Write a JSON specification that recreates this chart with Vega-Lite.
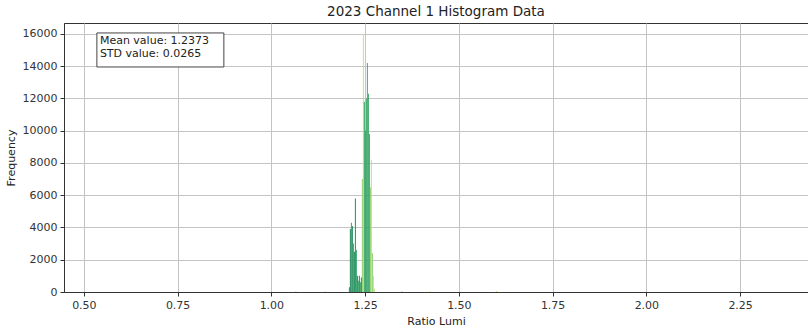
{
  "$schema": "https://vega.github.io/schema/vega-lite/v6.json",
  "autosize": {"type": "none"},
  "width": 744,
  "height": 269,
  "padding": {"left": 64, "top": 23, "right": 0, "bottom": 38},
  "background": "white",
  "title": {
    "text": "2023 Channel 1 Histogram Data",
    "font": "DejaVu Sans",
    "fontSize": 13.5,
    "fontWeight": "normal",
    "color": "#222",
    "anchor": "middle",
    "offset": 5
  },
  "config": {
    "view": {"stroke": "#333", "strokeWidth": 1},
    "axis": {
      "labelFont": "DejaVu Sans",
      "labelFontSize": 11,
      "labelColor": "#333",
      "labelFlush": false,
      "labelOverlap": false,
      "titleFont": "DejaVu Sans",
      "titleFontSize": 11,
      "titleFontWeight": "normal",
      "titleColor": "#222",
      "gridColor": "#c4c4c4",
      "gridWidth": 1,
      "domainColor": "#333",
      "tickColor": "#333",
      "tickSize": 4
    },
    "axisX": {"labelPadding": 3, "titlePadding": 5},
    "axisY": {"format": "d", "labelPadding": 3, "titlePadding": 6}
  },
  "datasets": {
    "hist": [
      {"lo": 1.0640, "hi": 1.0667, "count": 60, "series": "S5"},
      {"lo": 1.1413, "hi": 1.1440, "count": 50, "series": "S5"},
      {"lo": 1.3467, "hi": 1.3493, "count": 60, "series": "S5"},
      {"lo": 1.4227, "hi": 1.4253, "count": 50, "series": "S5"},
      {"lo": 1.5987, "hi": 1.6013, "count": 60, "series": "S5"},

      {"lo": 1.2067, "hi": 1.2093, "count": 300, "series": "S1"},
      {"lo": 1.2093, "hi": 1.2120, "count": 3900, "series": "S1"},
      {"lo": 1.2120, "hi": 1.2147, "count": 4300, "series": "S2"},
      {"lo": 1.2147, "hi": 1.2173, "count": 4100, "series": "S1"},
      {"lo": 1.2173, "hi": 1.2200, "count": 3000, "series": "S2"},
      {"lo": 1.2200, "hi": 1.2227, "count": 2500, "series": "S1"},
      {"lo": 1.2227, "hi": 1.2253, "count": 5800, "series": "S1"},
      {"lo": 1.2253, "hi": 1.2280, "count": 2600, "series": "S2"},
      {"lo": 1.2280, "hi": 1.2307, "count": 1000, "series": "S1"},
      {"lo": 1.2307, "hi": 1.2333, "count": 700, "series": "S2"},
      {"lo": 1.2333, "hi": 1.2360, "count": 1000, "series": "S1"},
      {"lo": 1.2360, "hi": 1.2387, "count": 600, "series": "S2"},
      {"lo": 1.2387, "hi": 1.2413, "count": 900, "series": "S1"},
      {"lo": 1.2413, "hi": 1.2440, "count": 7000, "series": "S4"},
      {"lo": 1.2440, "hi": 1.2467, "count": 16000, "series": "S5"},
      {"lo": 1.2467, "hi": 1.2493, "count": 11800, "series": "S2"},
      {"lo": 1.2493, "hi": 1.2520, "count": 10000, "series": "S2"},
      {"lo": 1.2520, "hi": 1.2547, "count": 12000, "series": "S2"},
      {"lo": 1.2547, "hi": 1.2573, "count": 14200, "series": "S3"},
      {"lo": 1.2573, "hi": 1.2600, "count": 12300, "series": "S2"},
      {"lo": 1.2600, "hi": 1.2627, "count": 9800, "series": "S2"},
      {"lo": 1.2627, "hi": 1.2653, "count": 6500, "series": "S4"},
      {"lo": 1.2653, "hi": 1.2680, "count": 8200, "series": "S5"},
      {"lo": 1.2680, "hi": 1.2707, "count": 2400, "series": "S4"},
      {"lo": 1.2707, "hi": 1.2733, "count": 1000, "series": "S5"},
      {"lo": 1.2733, "hi": 1.2760, "count": 200, "series": "S5"}
    ],
    "stats": [
      {"x": 0.5427, "y": 15560, "label": "Mean value: 1.2373"},
      {"x": 0.5427, "y": 14760, "label": "STD value: 0.0265"}
    ],
    "box": [
      {"x": 0.5347, "x2": 0.8733, "y": 16062, "y2": 13953}
    ]
  },
  "layer": [
    {
      "data": {"name": "hist"},
      "mark": {"type": "bar", "stroke": null},
      "encoding": {
        "x": {
          "field": "lo",
          "type": "quantitative",
          "title": "Ratio Lumi",
          "scale": {"domain": [0.447, 2.431], "nice": false, "zero": false},
          "axis": {"values": [0.5, 0.75, 1.0, 1.25, 1.5, 1.75, 2.0, 2.25], "format": ".2f"}
        },
        "x2": {"field": "hi"},
        "y": {
          "field": "count",
          "type": "quantitative",
          "title": "Frequency",
          "scale": {"domain": [0, 16680], "nice": false}
        },
        "y2": {"datum": 0},
        "color": {
          "field": "series",
          "type": "nominal",
          "scale": {
            "domain": ["S1", "S2", "S3", "S4", "S5"],
            "range": ["#1f8a5c", "#39a567", "#4f9b92", "#8fcf6d", "#bfe383"]
          },
          "legend": null
        },
        "order": {"field": "count", "type": "quantitative", "sort": "descending"}
      }
    },
    {
      "data": {"name": "box"},
      "mark": {"type": "rect", "fill": "white", "stroke": "#444", "strokeWidth": 1},
      "encoding": {
        "x": {
          "field": "x",
          "type": "quantitative",
          "title": "Ratio Lumi",
          "axis": {"values": [0.5, 0.75, 1.0, 1.25, 1.5, 1.75, 2.0, 2.25], "format": ".2f"}
        },
        "x2": {"field": "x2"},
        "y": {"field": "y", "type": "quantitative", "title": "Frequency"},
        "y2": {"field": "y2"}
      }
    },
    {
      "data": {"name": "stats"},
      "mark": {
        "type": "text",
        "align": "left",
        "baseline": "middle",
        "font": "DejaVu Sans",
        "fontSize": 11,
        "color": "#222"
      },
      "encoding": {
        "x": {
          "field": "x",
          "type": "quantitative",
          "title": "Ratio Lumi",
          "axis": {"values": [0.5, 0.75, 1.0, 1.25, 1.5, 1.75, 2.0, 2.25], "format": ".2f"}
        },
        "y": {"field": "y", "type": "quantitative", "title": "Frequency"},
        "text": {"field": "label"}
      }
    }
  ]
}
